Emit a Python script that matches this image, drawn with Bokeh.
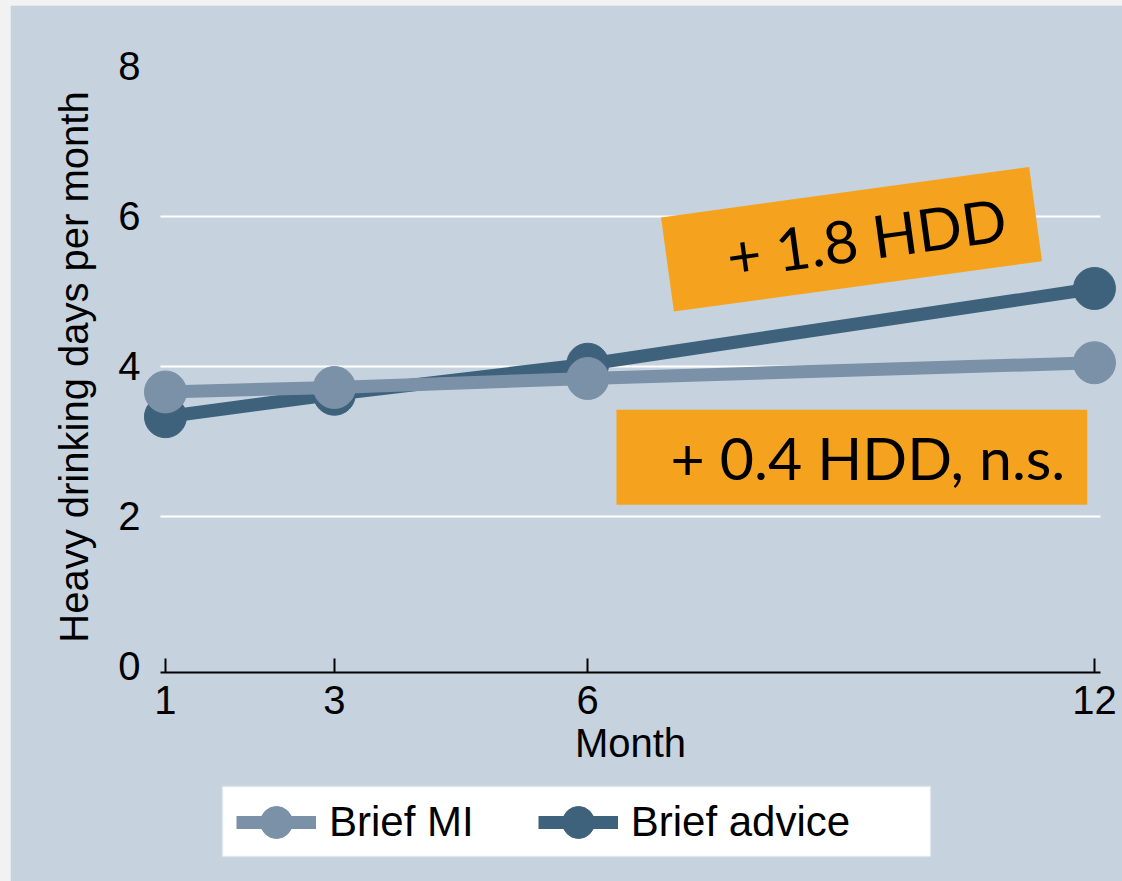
import math
from bokeh.plotting import figure
from bokeh.models import (Label, Legend, LegendItem, Spacer, FixedTicker, Range1d,
                          BoxAnnotation)
from bokeh.layouts import row, column
from bokeh.embed import file_html
from bokeh.resources import INLINE

# ---- data ----
months = [1, 3, 6, 12]
brief_mi = [3.66, 3.72, 3.84, 4.05]
brief_advice = [3.33, 3.63, 4.03, 5.04]
y_ticks = [0, 2, 4, 6, 8]
grid_ticks = [2, 4, 6]
series_names = ["Brief MI", "Brief advice"]
y_title = "Heavy drinking days per month"
x_title = "Month"
annot_text = ["+ 1.8 HDD", "+ 0.4 HDD, n.s."]
annot_x = [6.944, 6.34]
annot_y = [5.36, 2.79]

# ---- layout constants ----
X_LO, X_HI = 0.941, 12.071          # extent of the x axis line / grid lines
Y_AXIS_POS = -0.08                  # where the x axis line sits
Y_TITLE_POS = (-0.081, 3.993)       # position of the rotated y title
LEGEND_BOX = dict(left=1.675, right=10.058, top=-1.6, bottom=-2.533)

BG = "#c6d3df"
LIGHT = "#7b91a8"
DARK = "#3e627c"
ORANGE = "#f5a31f"
FONT = "Liberation Sans"

p = figure(width=1112, height=876,
           x_range=Range1d(-0.835, 12.332), y_range=Range1d(-2.867, 8.813),
           output_backend="svg", toolbar_location=None,
           min_border_left=0, min_border_right=0,
           min_border_top=0, min_border_bottom=0,
           background_fill_color=BG, border_fill_color=BG,
           outline_line_color=None)

# grid lines (white, only across the axis extent)
p.xgrid.visible = False
p.ygrid.visible = False
p.segment(x0=[X_LO] * len(grid_ticks), y0=grid_ticks,
          x1=[X_HI] * len(grid_ticks), y1=grid_ticks,
          line_color="white", line_width=2)

# y axis
p.yaxis.fixed_location = X_LO
p.yaxis.ticker = FixedTicker(ticks=y_ticks)
p.yaxis.axis_line_color = None
p.yaxis.major_tick_line_color = None
p.yaxis.minor_tick_line_color = None
p.yaxis.major_tick_in = 0
p.yaxis.major_tick_out = 0
p.yaxis.major_label_standoff = 20
p.yaxis.major_label_text_font = FONT
p.yaxis.major_label_text_font_size = "40px"
p.yaxis.major_label_text_color = "black"

# y title (rotated text, centred on the 0-8 region)
p.add_layout(Label(x=Y_TITLE_POS[0], y=Y_TITLE_POS[1], text=y_title, angle=math.pi / 2,
                   text_font=FONT, text_font_size="40px", text_color="black",
                   text_align="center", text_baseline="alphabetic"))

# x axis
p.xaxis.fixed_location = Y_AXIS_POS
p.xaxis.bounds = (X_LO, X_HI)
p.xaxis.ticker = FixedTicker(ticks=months)
p.xaxis.axis_line_color = "black"
p.xaxis.axis_line_width = 2
p.xaxis.major_tick_line_color = "black"
p.xaxis.major_tick_line_width = 2
p.xaxis.major_tick_in = 14
p.xaxis.major_tick_out = 0
p.xaxis.minor_tick_line_color = None
p.xaxis.major_label_standoff = 14
p.xaxis.major_label_text_font = FONT
p.xaxis.major_label_text_font_size = "40px"
p.xaxis.major_label_text_color = "black"
p.xaxis.axis_label = x_title
p.xaxis.axis_label_text_font = FONT
p.xaxis.axis_label_text_font_size = "40px"
p.xaxis.axis_label_text_font_style = "normal"
p.xaxis.axis_label_text_color = "black"
p.xaxis.axis_label_standoff = 3

# series (advice drawn first, MI on top)
ad_line = p.line(months, brief_advice, line_width=13, line_color=DARK)
ad_pts = p.scatter(months, brief_advice, size=42, fill_color=DARK, line_color=DARK)
mi_line = p.line(months, brief_mi, line_width=13, line_color=LIGHT)
mi_pts = p.scatter(months, brief_mi, size=42, fill_color=LIGHT, line_color=LIGHT)

# legend frame + legend
p.add_layout(BoxAnnotation(**LEGEND_BOX, fill_color="white", fill_alpha=1.0,
                           line_color="#dfe6ee", line_width=2))
legend = Legend(items=[LegendItem(label=series_names[0], renderers=[mi_line, mi_pts]),
                       LegendItem(label=series_names[1], renderers=[ad_line, ad_pts])],
                orientation="horizontal", location=(226, 19),
                glyph_width=80, glyph_height=80, padding=0, spacing=64,
                label_standoff=13, label_text_font=FONT, label_text_font_size="42px",
                label_text_color="black",
                background_fill_alpha=0.0, border_line_alpha=0.0, margin=0)
p.add_layout(legend)

# annotations
lab1 = Label(x=annot_x[0], y=annot_y[0], text=annot_text[0], angle=0.136,
             text_font="Lato", text_font_size="59px", text_color="black",
             text_align="left", text_baseline="middle",
             background_fill_color=ORANGE,
             padding=dict(left=60, right=30, top=12, bottom=12))
lab2 = Label(x=annot_x[1], y=annot_y[1], text=annot_text[1],
             text_font="Lato", text_font_size="59px", text_color="black",
             text_align="left", text_baseline="middle",
             background_fill_color=ORANGE,
             padding=dict(left=54, right=22, top=12, bottom=12))
p.add_layout(lab1)
p.add_layout(lab2)

edge = "#f2f2f2"
layout = row(Spacer(width=10, height=881, styles={"background-color": edge}),
             column(Spacer(width=1112, height=5, styles={"background-color": edge}), p))

open("out.html", "w").write(file_html(layout, INLINE))
